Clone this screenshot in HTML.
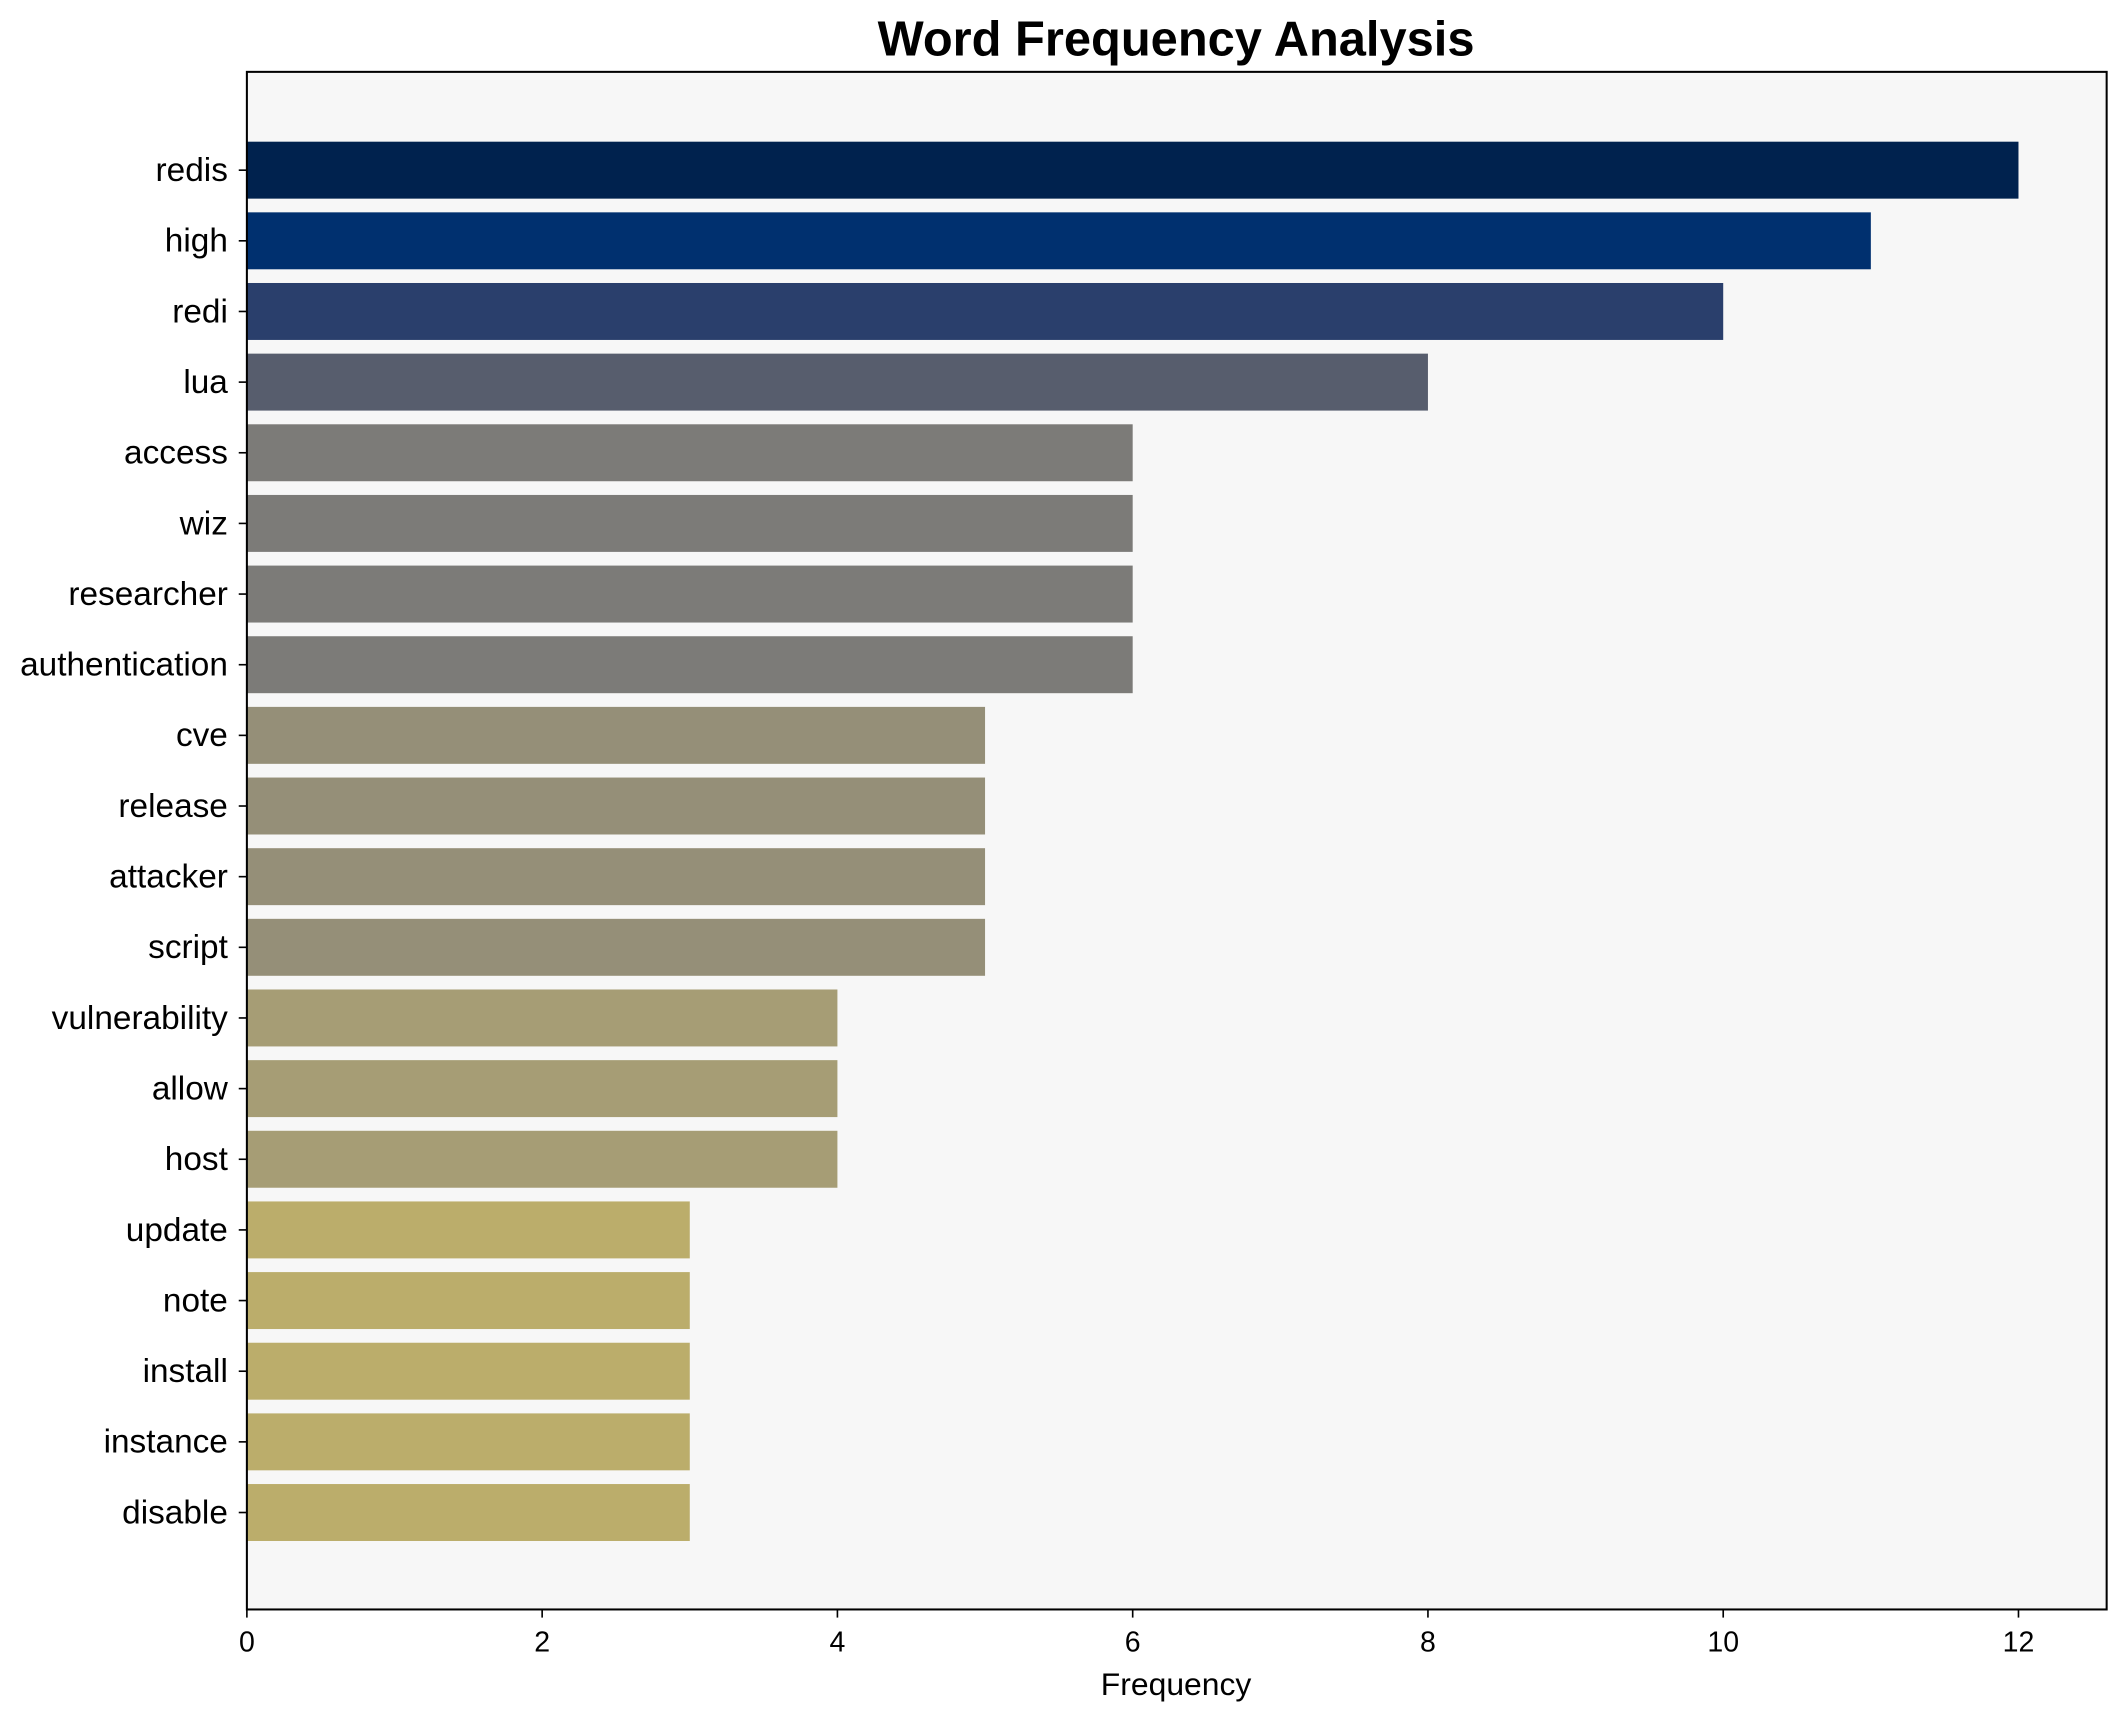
<!DOCTYPE html>
<html><head><meta charset="utf-8"><style>
html,body{margin:0;padding:0;background:#fff}
svg{display:block;font-family:"Liberation Sans",Arial,sans-serif}
</style></head><body>
<svg id="chart" width="2127" height="1722" viewBox="0 0 1568 1270" preserveAspectRatio="none" xmlns="http://www.w3.org/2000/svg">
<rect x="0" y="0" width="1568" height="1270" fill="#fff"/>
<text x="867" y="41" text-anchor="middle" font-size="36" font-weight="bold">Word Frequency Analysis</text>
<rect x="182" y="53" width="1371" height="1134" fill="#f7f7f7"/>
<g id="bars"></g>
<g id="yticks"></g>
<g id="xticks"></g>
<rect x="182" y="53" width="1371" height="1134" fill="none" stroke="#000" stroke-width="1.5"/>
<text x="867" y="1250" text-anchor="middle" font-size="23.5">Frequency</text>
</svg>
<script>
const words = ["redis","high","redi","lua","access","wiz","researcher","authentication","cve","release","attacker","script","vulnerability","allow","host","update","note","install","instance","disable"];
const counts = [12,11,10,8,6,6,6,6,5,5,5,5,4,4,4,3,3,3,3,3];
const colors = ["#00224e","#00306f","#2a3f6c","#575d6d","#7c7b78","#7c7b78","#7c7b78","#7c7b78","#958f78","#958f78","#958f78","#958f78","#a69d75","#a69d75","#a69d75","#bbad6b","#bbad6b","#bbad6b","#bbad6b","#bbad6b"];
const xTicks = [0,2,4,6,8,10,12];

const NS = "http://www.w3.org/2000/svg";
const x0 = 182, unit = (1488 - 182) / 12;
const xs = v => x0 + v * unit;
const y0 = 125.5, step = (1115.5 - 125.5) / 19, bh = 42;
const ys = i => y0 + i * step;

const bars = document.getElementById('bars');
const yt = document.getElementById('yticks');
const xt = document.getElementById('xticks');
function mk(tag, attrs, parent) {
  const e = document.createElementNS(NS, tag);
  for (const k in attrs) e.setAttribute(k, attrs[k]);
  parent.appendChild(e);
  return e;
}
words.forEach((w, i) => {
  const r = mk('rect', {x: xs(0), y: ys(i) - bh / 2, width: xs(counts[i]) - xs(0), height: bh, fill: colors[i]}, bars);
  
  
  mk('line', {x1: x0 - 6, x2: x0, y1: ys(i), y2: ys(i), stroke: '#000', 'stroke-width': 1.2}, yt);
  const t = mk('text', {x: x0 - 14, y: ys(i) + 8, 'text-anchor': 'end', 'font-size': 24.6}, yt);
  t.textContent = w;
  
  
});
xTicks.forEach(v => {
  mk('line', {x1: xs(v), x2: xs(v), y1: 1187, y2: 1193, stroke: '#000', 'stroke-width': 1.2}, xt);
  const t = mk('text', {x: xs(v), y: 1218, 'text-anchor': 'middle', 'font-size': 21}, xt);
  t.textContent = v;
  
  
});
</script>
</body></html>
